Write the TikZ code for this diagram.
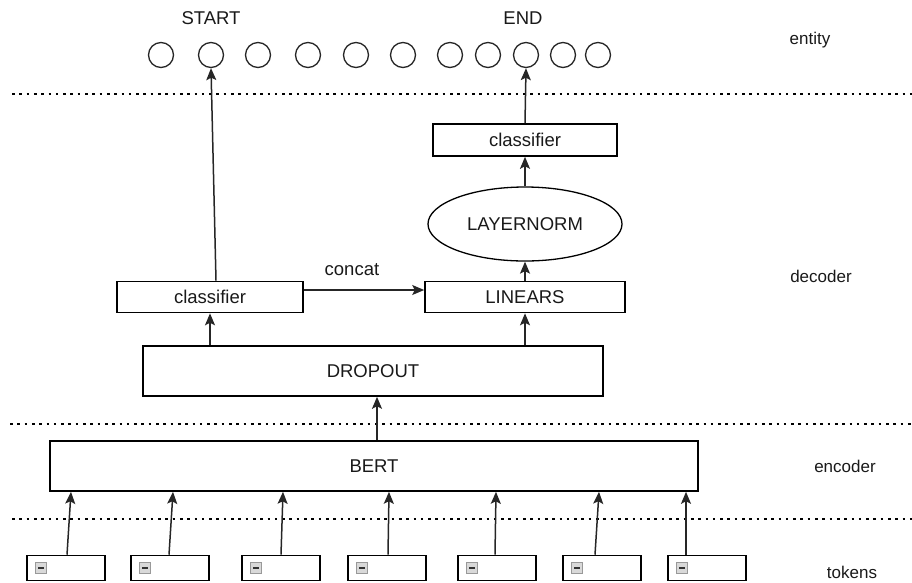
\documentclass[tikz,border=0pt]{standalone}
\usepackage{fontspec}
\setmainfont{Liberation Sans}
\usetikzlibrary{arrows.meta,shapes.geometric,calc}
\begin{document}
\begin{tikzpicture}[x=1pt,y=-1pt,
  every node/.style={font=\fontsize{18.5}{21}\selectfont, text=black!90},
  box/.style={draw, line width=1.6pt, minimum height=31pt, inner sep=0pt},
  ent/.style={circle, draw=black!85, line width=1.3pt, minimum size=25pt, inner sep=0pt},
  arr/.style={line width=1.5pt, draw=black!85, -{Stealth[length=12pt,width=10pt,inset=2.5pt]}},
  dotline/.style={line width=2.6pt, dash pattern=on 2.6pt off 4.7pt},
  tok/.style={draw, line width=1.6pt, minimum width=78pt, minimum height=25pt, inner sep=0pt},
  icon/.style={draw=gray!80, fill=gray!30, line width=1pt, minimum size=11pt, inner sep=0pt},
  lbl/.style={font=\fontsize{17}{20}\selectfont}
]
\useasboundingbox (0,0) rectangle (912,582);

% entity circles
\foreach \i/\x in {1/161,2/211,3/258,4/308,5/356,6/403,7/450,8/488,9/526,10/563,11/598}
  \node[ent] (c\i) at (\x,55) {};
\node (start) at (211,18) {START};
\node (end) at (523,18) {END};

% dotted separators
\draw[dotline] (12,94) -- (912,94);
\draw[dotline] (10,424) -- (912,424);
\draw[dotline] (12,519) -- (912,519);

% decoder
\node[box, minimum width=184pt, minimum height=32pt] (cls2) at (525,140) {classifier};
\node[ellipse, draw, line width=1.3pt, minimum width=194pt, minimum height=74pt, inner sep=0pt] (ln) at (525,224) {LAYERNORM};
\node[box, minimum width=200pt] (lin) at (525,297) {LINEARS};
\node[box, minimum width=186pt] (cls1) at (210,297) {classifier};
\node[box, minimum width=460pt, minimum height=50pt] (drop) at (373,371) {DROPOUT};

% encoder
\node[box, minimum width=648pt, minimum height=50pt] (bert) at (374,466) {BERT};

% tokens
\foreach \i/\x in {1/66,2/170,3/281,4/387,5/497,6/602,7/707}{
  \node[tok] (t\i) at (\x,568) {};
  \node[icon] (ic\i) at ([xshift=15pt]t\i.west) {};
  \draw[line width=1.8pt, black!80] ([xshift=-3pt]ic\i.center) -- ([xshift=3pt]ic\i.center);
}

% token arrows
\foreach \i/\a/\b in {1/1/5,2/-1/3,3/0/2,4/1/2,5/-2/-1,6/-7/-3,7/-21/-21}
  \draw[arr] ([xshift=\a pt]t\i.north) -- ([xshift=\b pt]t\i.north |- bert.south);

% main arrows
\draw[arr] ([xshift=3pt]bert.north) -- ([xshift=3pt]bert.north |- drop.south);
\draw[arr] (drop.north -| 210,0) -- (cls1.south);
\draw[arr] (drop.north -| lin.south) -- (lin.south);
\draw[arr] ([yshift=7pt]cls1.east) -- node[above=10pt, pos=0.4] (concat) {concat} ([yshift=7pt]lin.west);
\draw[arr] (lin.north) -- (ln.south);
\draw[arr] (ln.north) -- (cls2.south);
\draw[arr] (cls2.north) -- (c9.south);
\draw[arr] ([xshift=6pt]cls1.north) -- (c2.south);

% layer labels
\node[lbl] (lent) at (810,40) {entity};
\node[lbl] (ldec) at (821,276) {decoder};
\node[lbl] (lenc) at (845,466) {encoder};
\node[lbl] (ltok) at (852,572) {tokens};
\end{tikzpicture}
\end{document}
